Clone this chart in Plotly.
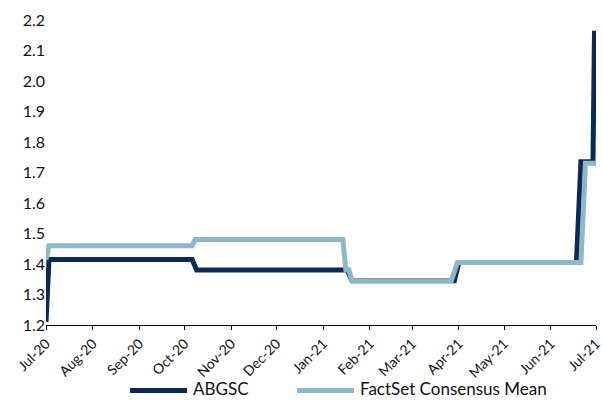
import plotly.graph_objects as go

# ABGSC estimate path (change points)
abgsc_dates = [
    "2020-07-01", "2020-07-03", "2020-10-06", "2020-10-09",
    "2021-01-17", "2021-01-20", "2021-03-29", "2021-04-01",
    "2021-06-18", "2021-06-21", "2021-06-29", "2021-06-30",
]
abgsc_values = [
    1.21, 1.415, 1.415, 1.38,
    1.38, 1.345, 1.345, 1.405,
    1.405, 1.735, 1.735, 2.165,
]

# FactSet consensus mean path (change points)
consensus_dates = [
    "2020-07-01", "2020-07-03", "2020-10-06", "2020-10-08",
    "2021-01-14", "2021-01-16", "2021-01-18", "2021-01-20",
    "2021-03-27", "2021-03-31", "2021-06-21", "2021-06-24",
    "2021-07-01",
]
consensus_values = [
    1.415, 1.46, 1.46, 1.48,
    1.48, 1.38, 1.38, 1.345,
    1.345, 1.405, 1.405, 1.73,
    1.73,
]

series_names = ["ABGSC", "FactSet Consensus Mean"]
series_colors = ["#0b2a52", "#8db8c9"]

y_ticks = [1.2, 1.3, 1.4, 1.5, 1.6, 1.7, 1.8, 1.9, 2.0, 2.1, 2.2]

FONT = "Lato"
TEXT = "#111111"

fig = go.Figure()
fig.add_trace(go.Scatter(
    x=abgsc_dates, y=abgsc_values, mode="lines", name=series_names[0],
    line=dict(color=series_colors[0], width=5),
))
fig.add_trace(go.Scatter(
    x=consensus_dates, y=consensus_values, mode="lines", name=series_names[1],
    line=dict(color=series_colors[1], width=5),
))

# Legend drawn below the axis: line sample + label for each series
legend_items = [
    (0.1527, 0.2564, 0.2655),
    (0.4564, 0.5600, 0.5690),
]
legend_line_y = -0.215
legend_text_y = -0.208
for (x0, x1, xt), name, color in zip(legend_items, series_names, series_colors):
    fig.add_shape(type="line", xref="paper", yref="paper",
                  x0=x0, x1=x1, y0=legend_line_y, y1=legend_line_y,
                  line=dict(color=color, width=5))
    fig.add_annotation(xref="paper", yref="paper", x=xt, y=legend_text_y,
                       text=name, showarrow=False, xanchor="left",
                       yanchor="middle", borderpad=0,
                       font=dict(family=FONT, size=17, color=TEXT))

fig.update_layout(
    width=603, height=400,
    margin=dict(l=46, r=7, t=20, b=75),
    paper_bgcolor="white", plot_bgcolor="white",
    showlegend=False,
    font=dict(family=FONT, size=15, color=TEXT),
)
fig.update_xaxes(
    type="date", range=["2020-07-01", "2021-07-01"],
    dtick="M1", tick0="2020-07-01", tickformat="%b-%y", tickangle=-45,
    showgrid=False, showline=True, linecolor="black", linewidth=1,
    ticks="outside", ticklen=4, tickcolor="black",
    tickfont=dict(family=FONT, size=14), zeroline=False,
    automargin=False, ticklabeloverflow="allow",
)
fig.update_yaxes(
    range=[1.2, 2.2], tickvals=y_ticks, tickformat=".1f",
    showgrid=False, showline=False, zeroline=False, ticks="",
    tickfont=dict(family=FONT, size=16), automargin=False,
)

fig.write_html("out.html")
